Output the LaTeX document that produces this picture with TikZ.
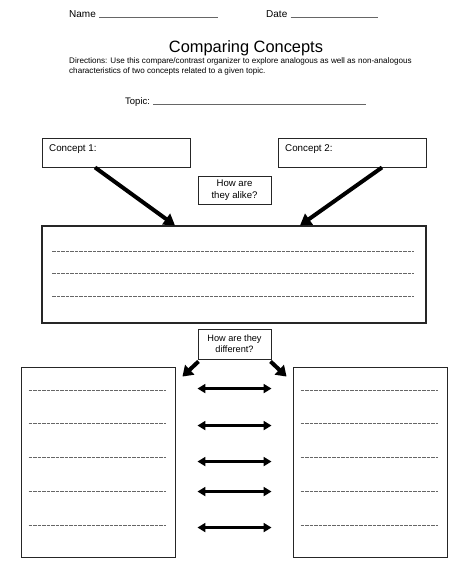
\documentclass[tikz,border=0pt]{standalone}
\usepackage{fontspec}
\setmainfont{Liberation Sans}
\usetikzlibrary{arrows.meta,calc}
\begin{document}
\begin{tikzpicture}[x=1pt,y=-1pt,
  box/.style={draw=black!85,line width=0.9pt,inner sep=0pt},
  fatarrow/.style={line width=4pt,-{Triangle[width=13pt,length=11pt]}},
  midarrow/.style={line width=4pt,-{Triangle[width=13pt,length=10pt]}},
  dblarrow/.style={line width=3pt,{Triangle[width=9pt,length=8pt]}-{Triangle[width=9pt,length=8pt]}},
  writeline/.style={draw=black!60,line width=0.8pt,dash pattern=on 3.5pt off 1pt},
  blank/.style={draw=black!60,line width=0.7pt},
  lbl/.style={inner sep=0pt,font=\fontsize{10}{12}\selectfont}
]
\useasboundingbox (0,0) rectangle (474,582);
\fill[white] (0,0) rectangle (474,582);

% header
\node[lbl,anchor=base west] (name) at (69,17) {Name};
\coordinate (nameend) at (218,17);
\draw[blank] ([xshift=3pt]name.base east) -- (nameend);
\node[lbl,anchor=base west] (date) at (266,17) {Date};
\coordinate (dateend) at (378,17);
\draw[blank] ([xshift=3pt]date.base east) -- (dateend);

\node[inner sep=0pt,anchor=base,font=\fontsize{16.4}{19}\selectfont] (title) at (246,52.5) {Comparing Concepts};
\node[inner sep=0pt,anchor=base west,align=left,font=\fontsize{8.1}{9.6}\selectfont] (dir) at (69,73)
 {Directions: Use this compare/contrast organizer to explore analogous as well as non-analogous\\
  characteristics of two concepts related to a given topic.};

\node[lbl,anchor=base west,font=\fontsize{9.5}{11}\selectfont] (topic) at (125,104) {Topic:};
\coordinate (topicend) at (366,104);
\draw[blank] ([xshift=3pt]topic.base east) -- (topicend);

% concept boxes
\node[box,minimum width=148pt,minimum height=29pt] (c1) at (116,152.5) {};
\node[anchor=base west,inner sep=0pt,font=\fontsize{9.8}{11}\selectfont] (c1t) at (49,151) {Concept 1:};
\node[box,minimum width=148pt,minimum height=29pt] (c2) at (352,152.5) {};
\node[anchor=base west,inner sep=0pt,font=\fontsize{9.8}{11}\selectfont] (c2t) at (285,151) {Concept 2:};

\node[box,minimum width=73pt,minimum height=28pt,align=center,font=\fontsize{9.6}{11.5}\selectfont] (alike) at (234.5,190) {How are\\they alike?};

% main box
\node[box,line width=1.1pt,minimum width=384pt,minimum height=97pt] (main) at (234,274.5) {};
\foreach \yy in {26,48,71}
  \draw[writeline] ($(main.north west)+(11,\yy)$) -- ($(main.north east)+(-13,\yy)$);

\draw[fatarrow] ([xshift=-21pt]c1.south) -- ([xshift=-59pt]main.north);
\draw[fatarrow] ([xshift=30pt]c2.south) -- ([xshift=66pt]main.north);

% different
\node[box,minimum width=73pt,minimum height=30pt,align=center,font=\fontsize{9.2}{11}\selectfont] (diff) at (234.5,344) {How are they\\different?};

\node[box,minimum width=154pt,minimum height=190pt] (lb) at (98,462) {};
\node[box,minimum width=154pt,minimum height=190pt] (rb) at (370,462) {};

\draw[midarrow] ([xshift=-36pt,yshift=-2pt]diff.south) -- ($(lb.north east)+(7,10)$);
\draw[midarrow] ([xshift=36pt,yshift=-2pt]diff.south) -- ($(rb.north west)+(-6,10)$);

\foreach \yy in {24,57,91,125,159}{
  \draw[writeline] ($(lb.north west)+(8,\yy)$) -- ($(lb.north east)+(-9,\yy)$);
  \draw[writeline] ($(rb.north west)+(8,\yy)$) -- ($(rb.north east)+(-9,\yy)$);
}
\foreach \yy in {22,59,95,125,161}
  \draw[dblarrow] ($(lb.north east)+(22,\yy)$) -- ($(rb.north west)+(-21,\yy)$);
\end{tikzpicture}
\end{document}
